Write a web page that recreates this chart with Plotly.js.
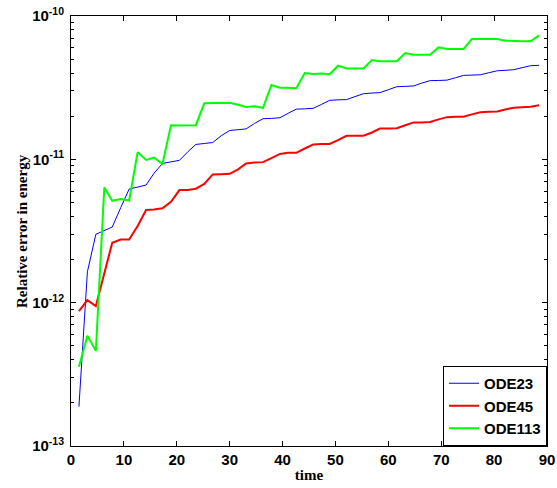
<!DOCTYPE html>
<html>
<head>
<meta charset="utf-8">
<script src="https://cdn.plot.ly/plotly-3.0.1.min.js"></script>
<style>html,body{margin:0;padding:0;background:#fff;}#chart{width:557px;height:488px;}</style>
</head>
<body>
<div id="chart"></div>
<script>
const time = [1.5, 3.1, 4.7, 6.3, 7.8, 9.4, 11.0, 12.6, 14.2, 15.7, 17.3, 18.9, 20.5, 22.1, 23.6, 25.2, 26.8, 28.4, 30.0, 31.6, 33.1, 34.7, 36.3, 37.9, 39.5, 41.0, 42.6, 44.2, 45.8, 47.4, 48.9, 50.5, 52.1, 53.7, 55.3, 56.9, 58.4, 60.0, 61.6, 63.2, 64.8, 66.3, 67.9, 69.5, 71.1, 72.7, 74.2, 75.8, 77.4, 79.0, 80.6, 82.1, 83.7, 85.3, 86.9, 88.5];

const ode23 = [1.88e-13, 1.64e-12, 3.0e-12, 3.2e-12, 3.37e-12, 4.6e-12, 6.21e-12, 6.4e-12, 6.62e-12, 8.0e-12,
  9.37e-12, 9.6e-12, 9.84e-12, 1.13e-11, 1.27e-11, 1.29e-11, 1.31e-11, 1.46e-11, 1.59e-11, 1.61e-11,
  1.63e-11, 1.78e-11, 1.92e-11, 1.93e-11, 1.95e-11, 2.09e-11, 2.24e-11, 2.25e-11, 2.27e-11, 2.42e-11,
  2.58e-11, 2.60e-11, 2.61e-11, 2.74e-11, 2.87e-11, 2.90e-11, 2.92e-11, 3.06e-11, 3.21e-11, 3.23e-11,
  3.25e-11, 3.40e-11, 3.54e-11, 3.55e-11, 3.57e-11, 3.71e-11, 3.85e-11, 3.87e-11, 3.89e-11, 4.02e-11,
  4.15e-11, 4.18e-11, 4.22e-11, 4.36e-11, 4.50e-11, 4.53e-11];

const ode45 = [8.73e-13, 1.04e-12, 9.46e-13, 1.64e-12, 2.62e-12, 2.76e-12, 2.76e-12, 3.43e-12, 4.43e-12, 4.46e-12,
  4.55e-12, 5.06e-12, 6.1e-12, 6.12e-12, 6.24e-12, 6.73e-12, 7.85e-12, 7.88e-12, 7.93e-12, 8.51e-12,
  9.37e-12, 9.49e-12, 9.56e-12, 1.02e-11, 1.09e-11, 1.11e-11, 1.11e-11, 1.19e-11, 1.27e-11, 1.28e-11,
  1.28e-11, 1.36e-11, 1.46e-11, 1.46e-11, 1.46e-11, 1.54e-11, 1.64e-11, 1.64e-11, 1.65e-11, 1.73e-11,
  1.81e-11, 1.81e-11, 1.82e-11, 1.90e-11, 1.97e-11, 1.98e-11, 1.98e-11, 2.06e-11, 2.13e-11, 2.15e-11,
  2.16e-11, 2.23e-11, 2.29e-11, 2.31e-11, 2.33e-11, 2.38e-11];

const ode113 = [3.57e-13, 5.88e-13, 4.61e-13, 6.37e-12, 5.14e-12, 5.29e-12, 5.16e-12, 1.12e-11, 9.9e-12, 1.03e-11,
  9.27e-12, 1.73e-11, 1.72e-11, 1.72e-11, 1.73e-11, 2.46e-11, 2.46e-11, 2.47e-11, 2.48e-11, 2.40e-11,
  2.32e-11, 2.35e-11, 2.29e-11, 3.30e-11, 3.16e-11, 3.16e-11, 3.13e-11, 4.00e-11, 3.94e-11, 3.97e-11,
  3.92e-11, 4.50e-11, 4.31e-11, 4.31e-11, 4.31e-11, 4.93e-11, 4.83e-11, 4.83e-11, 4.83e-11, 5.52e-11,
  5.37e-11, 5.37e-11, 5.37e-11, 6.04e-11, 5.88e-11, 5.88e-11, 5.88e-11, 6.91e-11, 6.91e-11, 6.91e-11,
  6.91e-11, 6.73e-11, 6.66e-11, 6.66e-11, 6.66e-11, 7.33e-11];

const seriesNames = ['ODE23', 'ODE45', 'ODE113'];
const xTicks = [0, 10, 20, 30, 40, 50, 60, 70, 80, 90];
const yTicks = [1e-13, 1e-12, 1e-11, 1e-10];
const yTickText = ['10<sup>-13</sup>', '10<sup>-12</sup>', '10<sup>-11</sup>', '10<sup>-10</sup>'];

// minor tick positions (2..9 within each decade)
const yMinor = [];
for (let e = -13; e < -10; e++) for (let m = 2; m <= 9; m++) yMinor.push(m * Math.pow(10, e));

const traces = [
  {x: time, y: ode23, name: seriesNames[0], mode: 'lines', line: {color: '#0000ff', width: 1}},
  {x: time, y: ode45, name: seriesNames[1], mode: 'lines', line: {color: '#ff0000', width: 2}},
  {x: time, y: ode113, name: seriesNames[2], mode: 'lines', line: {color: '#00ff00', width: 2}},
  {x: [], y: [], yaxis: 'y2', showlegend: false, hoverinfo: 'skip', mode: 'lines'}
];

const tickFont = {family: 'Arial, Liberation Sans, sans-serif', size: 15, color: '#000', weight: 'bold'};
const titleFont = {family: 'Times New Roman, Liberation Serif, serif', size: 15, color: '#000', weight: 'bold'};

const layout = {
  width: 557, height: 488,
  margin: {l: 71, r: 10, t: 16, b: 42},
  paper_bgcolor: '#fff', plot_bgcolor: '#fff',
  showlegend: true,
  legend: {
    x: 1, y: 0, xanchor: 'right', yanchor: 'bottom',
    bordercolor: '#000', borderwidth: 1, bgcolor: '#fff',
    font: {family: 'Arial, Liberation Sans, sans-serif', size: 15, color: '#000', weight: 'bold'},
    tracegroupgap: 0, itemwidth: 30
  },
  xaxis: {
    range: [0, 90], tickvals: xTicks, ticktext: xTicks.map(String),
    ticks: 'inside', ticklen: 5, tickcolor: '#000',
    showline: true, linecolor: '#000', linewidth: 1, mirror: 'ticks',
    showgrid: false, zeroline: false,
    tickfont: tickFont,
    title: {text: 'time', font: titleFont, standoff: 2}
  },
  yaxis: {
    type: 'log', range: [-13, -10], tickvals: yTicks, ticktext: yTickText,
    ticks: 'inside', ticklen: 5, tickwidth: 1, tickcolor: '#000',
    showline: true, linecolor: '#000', linewidth: 1, mirror: 'ticks',
    showgrid: false, zeroline: false,
    tickfont: tickFont, ticklabelstandoff: 3
  },
  yaxis2: {
    type: 'log', range: [-13, -10], overlaying: 'y', side: 'left', anchor: 'x',
    tickvals: yMinor, showticklabels: false,
    ticks: 'inside', ticklen: 3, tickwidth: 1, tickcolor: '#000',
    showline: false, mirror: 'ticks', showgrid: false, zeroline: false
  },
  annotations: [{
    text: 'Relative error in energy', textangle: -90,
    xref: 'paper', yref: 'paper', x: -0.103, y: 0.5,
    xanchor: 'center', yanchor: 'middle', showarrow: false,
    font: titleFont
  }]
};

Plotly.newPlot('chart', traces, layout, {displayModeBar: false, staticPlot: true});
</script>
</body>
</html>
